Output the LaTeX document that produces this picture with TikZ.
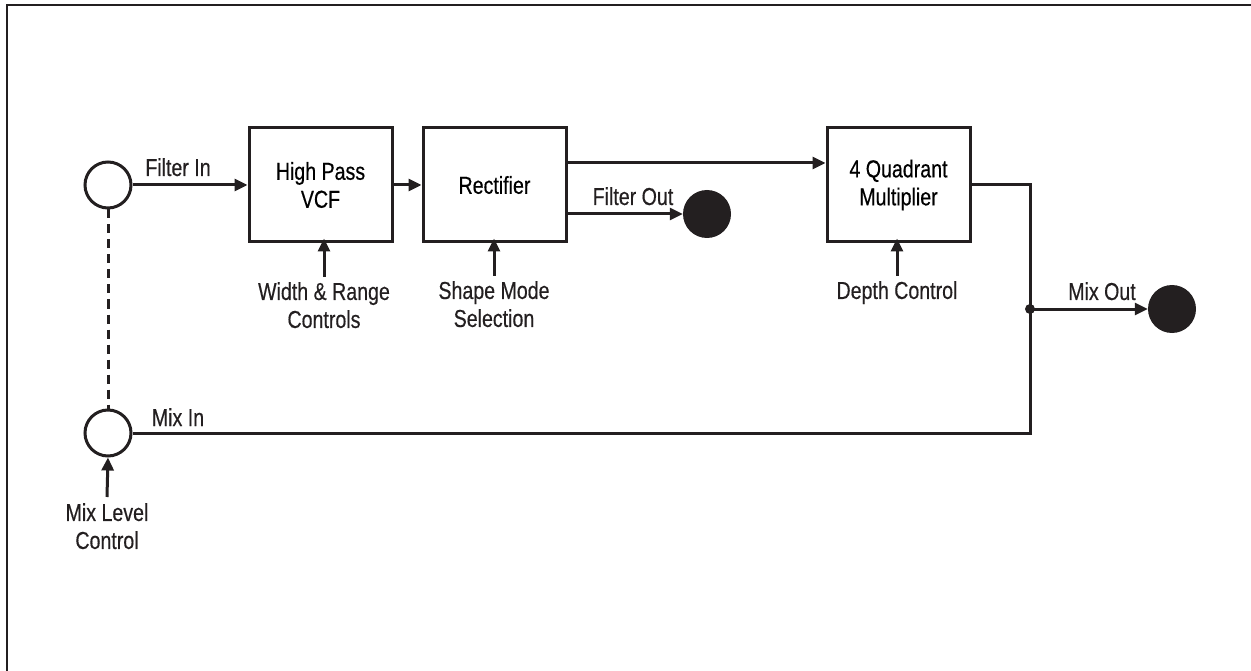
\documentclass[tikz,border=0pt]{standalone}
\usepackage{fontspec}
\setmainfont{Liberation Sans}[FakeStretch=0.8,FakeBold=0.4]
\usetikzlibrary{arrows.meta,calc}
\definecolor{ink}{HTML}{231F20}
\begin{document}
\begin{tikzpicture}[x=1pt,y=-1pt,
  ink line/.style={draw=ink,line width=3pt},
  arr/.style={ink line,-{Triangle[length=13pt,width=12pt]}},
  blockbox/.style={ink line,minimum width=143pt,minimum height=114pt,inner sep=0pt,align=center,font=\fontsize{24.5pt}{28pt}\selectfont},
  jack/.style={circle,ink line,minimum size=46pt,inner sep=0pt},
  outjack/.style={circle,fill=ink,minimum size=48pt,inner sep=0pt},
  lbl/.style={inner sep=0pt,text=ink,align=center,font=\fontsize{24.5pt}{28pt}\selectfont}
]
\useasboundingbox (0,0) rectangle (1251,671);
% frame (top and left only)
\draw[draw=ink,line width=2.5pt] (7,671) -- (7,5) -- (1251,5);

% jacks
\node[jack] (fin) at (108,185) {};
\node[jack] (min) at (108,433) {};
\node[outjack] (fout) at (707,214) {};
\node[outjack] (mout) at (1172,309) {};

% blocks
\node[blockbox] (vcf) at (320.5,185) {High Pass\\VCF};
\node[blockbox] (rect) at (494.5,185) {Rectifier};
\node[blockbox] (mult) at (898.5,185) {4 Quadrant\\Multiplier};

% labels
\node[lbl,anchor=base] (lfin) at (178,176) {Filter In};
\node[lbl,anchor=base] (lmin) at (178,426) {Mix In};
\node[lbl,anchor=base] (lfout) at (633,205) {Filter Out};
\node[lbl,anchor=base] (lmout) at (1102,300) {Mix Out};
\node[lbl,anchor=north] (lwr) at (324,282) {Width \& Range\\Controls};
\node[lbl,anchor=north] (lsm) at (494,281) {Shape Mode\\Selection};
\node[lbl,anchor=north] (ldc) at (897,281) {Depth Control};
\node[lbl,anchor=north] (lml) at (107,503) {Mix Level\\Control};

% signal connectors
\draw[arr] (fin.east) -- (vcf.west);
\draw[arr] (vcf.east) -- (rect.west);
\coordinate (r1) at ([yshift=22pt]rect.east);
\draw[arr] (r1) -- (r1 -| mult.west);
\coordinate (r2) at ([yshift=-29pt]rect.east);
\draw[arr] (r2) -- (fout.west);
\coordinate (jt) at (1030,309);
\draw[ink line] (mult.east) -| (jt) |- (min.east);
\draw[arr] (jt) -- (mout.west);
\fill[ink] (jt) circle (5pt);

% control arrows
\draw[arr] ([yshift=5pt]lwr.north) -- ([yshift=5pt]lwr.north |- vcf.south);
\draw[arr] ([yshift=5pt]lsm.north) -- ([yshift=5pt]lsm.north |- rect.south);
\draw[arr] ([yshift=5pt]ldc.north) -- ([yshift=5pt]ldc.north |- mult.south);
\draw[arr] ([yshift=6pt]lml.north) -- (min.south);

% link between jacks
\draw[draw=ink,line width=3pt,dash pattern=on 9pt off 6pt] (fin.south) -- (min.north);
\end{tikzpicture}
\end{document}
